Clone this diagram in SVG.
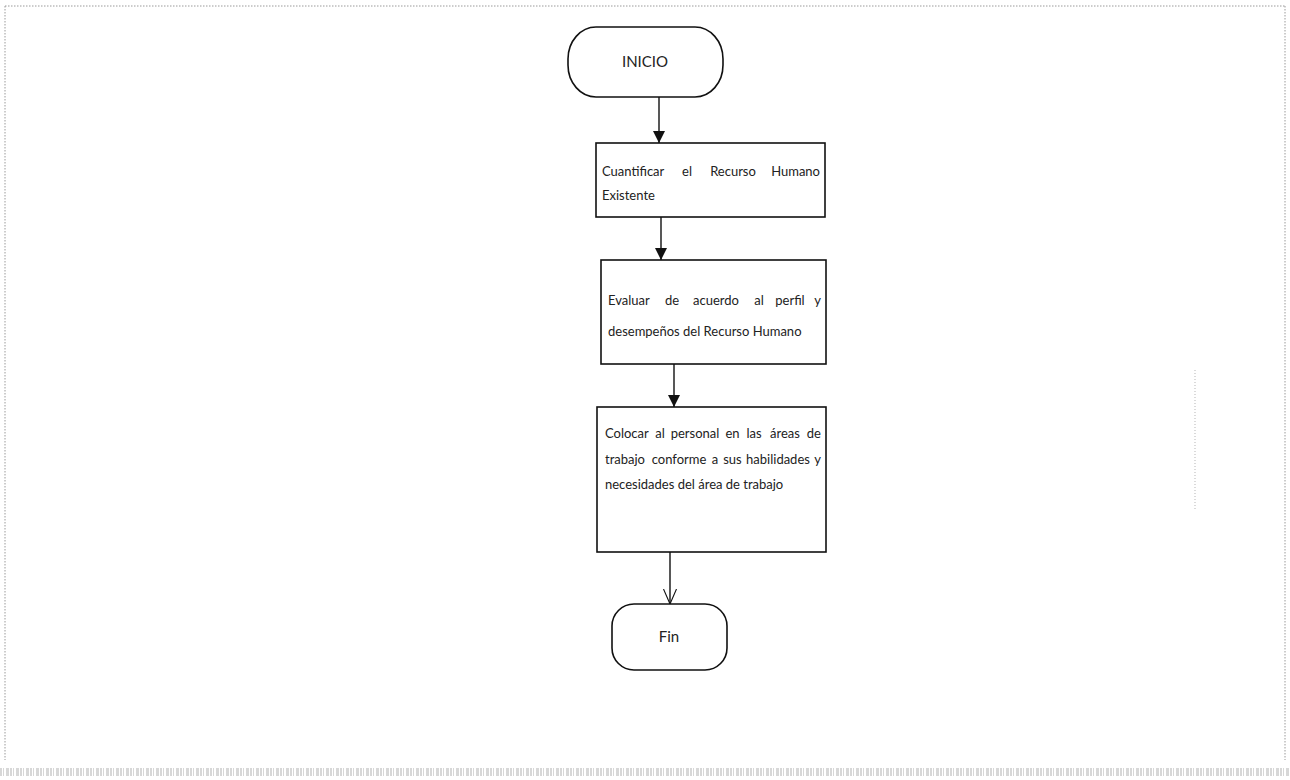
<svg xmlns="http://www.w3.org/2000/svg" width="1290" height="780" viewBox="0 0 1290 780">
  <style>
    .shape { fill: #ffffff; stroke: #111111; stroke-width: 1.6; }
    .label { font-family: Lato, "Liberation Sans", sans-serif; font-size: 13px; fill: #222222; }
    .term { font-family: Lato, "Liberation Sans", sans-serif; font-size: 15px; fill: #222222; }
    .mid { text-anchor: middle; }
    .end { text-anchor: end; }
    .conn { stroke: #111111; stroke-width: 1.4; fill: none; }
    .frame { stroke: #9a9a9a; stroke-width: 1; stroke-dasharray: 1.5 1.5; fill: none; }
  </style>
  <defs>
    <marker id="solidHead" viewBox="0 0 12 12" refX="12" refY="6" markerWidth="12" markerHeight="12" markerUnits="userSpaceOnUse" orient="auto">
      <path d="M0 0 L12 6 L0 12 Z" fill="#111111"/>
    </marker>
    <marker id="openHead" viewBox="0 0 15 14" refX="15" refY="7" markerWidth="15" markerHeight="14" markerUnits="userSpaceOnUse" orient="auto">
      <path d="M0 0.5 L15 7 L0 13.5" fill="none" stroke="#111111" stroke-width="1.1"/>
    </marker>
  </defs>

  <!-- page frame -->
  <g id="frame">
    <path class="frame" d="M5 6 H1285 M5 6 V760 M1285 6 V760"/>
    <path d="M1195 370 V510" stroke="#b5b5b5" stroke-width="1" stroke-dasharray="1 2"/>
    <path d="M0 772 H1290" stroke="#bdbdbd" stroke-width="8" stroke-dasharray="2 1 1 2 3 1" opacity="0.6"/>
  </g>

  <!-- connectors -->
  <g id="connectors">
    <line class="conn" x1="659" y1="97" x2="659" y2="143" marker-end="url(#solidHead)"/>
    <line class="conn" x1="661" y1="217" x2="661" y2="260" marker-end="url(#solidHead)"/>
    <line class="conn" x1="674" y1="364" x2="674" y2="407" marker-end="url(#solidHead)"/>
    <line class="conn" x1="670" y1="552" x2="670" y2="604" marker-end="url(#openHead)"/>
  </g>

  <g id="inicio">
    <rect class="shape" x="568" y="27" width="155" height="70" rx="28" ry="32"/>
    <text class="term mid" x="645" y="67">INICIO</text>
  </g>

  <g id="cuantificar">
    <rect class="shape" x="596" y="143" width="229" height="74"/>
    <text class="label" x="602" y="176">Cuantificar</text>
    <text class="label mid" x="687" y="176">el</text>
    <text class="label mid" x="733" y="176">Recurso</text>
    <text class="label end" x="820" y="176">Humano</text>
    <text class="label" x="602" y="200">Existente</text>
  </g>

  <g id="evaluar">
    <rect class="shape" x="601" y="260" width="225" height="104"/>
    <text class="label" x="608" y="305">Evaluar</text>
    <text class="label mid" x="672" y="305">de</text>
    <text class="label mid" x="716" y="305">acuerdo</text>
    <text class="label mid" x="759" y="305">al</text>
    <text class="label mid" x="790" y="305">perfil</text>
    <text class="label end" x="821" y="305">y</text>
    <text class="label" x="608" y="336">desempeños del Recurso Humano</text>
  </g>

  <g id="colocar">
    <rect class="shape" x="597" y="407" width="229" height="145"/>
    <text class="label" x="605" y="438">Colocar</text>
    <text class="label mid" x="660" y="438">al</text>
    <text class="label mid" x="695" y="438">personal</text>
    <text class="label mid" x="732.5" y="438">en</text>
    <text class="label mid" x="754" y="438">las</text>
    <text class="label mid" x="785" y="438">áreas</text>
    <text class="label end" x="821" y="438">de</text>
    <text class="label" x="605" y="464">trabajo</text>
    <text class="label mid" x="679" y="464">conforme</text>
    <text class="label mid" x="715" y="464">a</text>
    <text class="label mid" x="732.5" y="464">sus</text>
    <text class="label mid" x="778" y="464">habilidades</text>
    <text class="label end" x="821" y="464">y</text>
    <text class="label" x="605" y="489">necesidades del área de trabajo</text>
  </g>

  <g id="fin">
    <rect class="shape" x="612" y="604" width="115" height="66" rx="22" ry="22"/>
    <text class="term mid" x="669" y="642">Fin</text>
  </g>
</svg>
